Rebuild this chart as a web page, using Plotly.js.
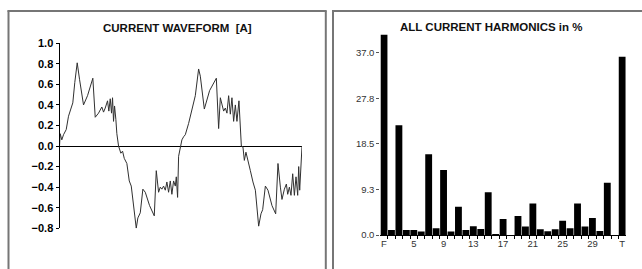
<!DOCTYPE html>
<html>
<head>
<meta charset="utf-8">
<script src="https://cdn.plot.ly/plotly-3.0.1.min.js"></script>
<style>
html,body{margin:0;padding:0;background:#fff;}
#chart{width:642px;height:269px;}
</style>
</head>
<body>
<div id="chart"></div>
<script>
// ---- Current waveform (two cycles), sample position and amplitude [A]
const waveT = [0,0.7,2.3,4.0,6.7,9.0,11.3,13.3,15.3,17.7,20.0,24.0,28.0,33.3,35.7,39.0,42.3,44.0,45.7,48.0,49.3,50.7,52.0,53.0,54.0,55.0,56.3,57.3,59.0,61.3,63.0,64.7,67.3,69.7,71.7,74.0,76.7,78.3,80.7,83.3,85.7,90.0,94.7,96.7,99.0,100.7,102.3,104.0,105.7,107.3,109.0,110.7,112.3,114.0,115.7,116.7,118.0,119.0,120.7,122.3,124.0,125.7,129.0,132.3,135.7,139.0,140.7,144.7,150.0,156.7,159.0,160.7,162.3,164.0,165.7,167.3,169.0,170.7,172.3,174.0,175.7,177.3,179.3,180.7,181.7,183.3,184.7,186.3,188.0,190.7,193.3,195.7,199.0,201.3,203.0,205.7,208.3,212.3,216.0,218.3,220.7,222.3,224.7,226.7,228.0,229.7,231.3,233.0,234.7,236.3,238.0,239.0,240.0,241.7,242.3];
const waveA = [0.0,0.12,0.06,0.11,0.16,0.29,0.36,0.42,0.62,0.81,0.65,0.40,0.49,0.66,0.28,0.32,0.38,0.33,0.37,0.44,0.34,0.46,0.32,0.47,0.24,0.39,0.26,0.12,0.0,-0.07,-0.05,-0.12,-0.17,-0.34,-0.39,-0.57,-0.80,-0.70,-0.65,-0.42,-0.45,-0.58,-0.68,-0.24,-0.45,-0.40,-0.42,-0.39,-0.43,-0.35,-0.45,-0.34,-0.47,-0.34,-0.39,-0.30,-0.50,-0.10,0.0,0.06,0.09,0.11,0.22,0.34,0.49,0.75,0.68,0.36,0.54,0.66,0.17,0.47,0.39,0.34,0.37,0.32,0.49,0.31,0.47,0.24,0.40,0.24,0.44,0.09,0.0,-0.01,-0.14,-0.06,-0.12,-0.24,-0.35,-0.43,-0.78,-0.66,-0.62,-0.39,-0.43,-0.58,-0.66,-0.17,-0.40,-0.52,-0.42,-0.37,-0.47,-0.40,-0.48,-0.27,-0.48,-0.30,-0.48,-0.20,-0.43,-0.07,0.0];
const waveTickVals = [-0.8,-0.6,-0.4,-0.2,0.0,0.2,0.4,0.6,0.8,1.0];

// ---- Harmonics in % (F = fundamental ... T = total)
const harmPos = [1,2,3,4,5,6,7,8,9,10,11,12,13,14,15,16,17,18,19,20,21,22,23,24,25,26,27,28,29,30,31,32,33];
const harmVals = [40.65,1.0,22.3,1.0,1.0,0.7,16.4,1.35,13.2,0.7,5.75,1.0,1.8,1.2,8.7,0.2,3.25,0,3.85,1.7,6.4,1.15,0.75,1.15,2.9,1.35,6.4,1.7,3.45,0.8,10.6,0,36.2];
const harmTickPos = [1,5,9,13,17,21,25,29,33];
const harmTickText = ['F','5','9','13','17','21','25','29','T'];
const harmYTickVals = [0,9.25,18.5,27.75,37];
const harmYTickText = ['0.0','9.3','18.5','27.8','37.0'];

const W = 642, H = 269;
const px = x => x / W;
const py = y => 1 - y / H;

const traces = [
  {x: waveT, y: waveA, type: 'scatter', mode: 'lines', xaxis: 'x', yaxis: 'y',
   line: {color: '#303030', width: 1}, hoverinfo: 'skip'},
  {x: harmPos, y: harmVals, type: 'bar', xaxis: 'x2', yaxis: 'y2',
   marker: {color: '#000', line: {width: 0}}, hoverinfo: 'skip'}
];

const border = '#767676';
const shapes = [
  // left panel
  {type:'line', xref:'paper', yref:'paper', x0:px(8.5), x1:px(8.5), y0:py(10.5), y1:py(275), line:{color:border, width:2}},
  {type:'line', xref:'paper', yref:'paper', x0:px(7.5), x1:px(326.5), y0:py(11), y1:py(11), line:{color:border, width:2}},
  {type:'line', xref:'paper', yref:'paper', x0:px(325.8), x1:px(325.8), y0:py(10.5), y1:py(275), line:{color:border, width:2}},
  // right panel
  {type:'line', xref:'paper', yref:'paper', x0:px(333), x1:px(333), y0:py(10.5), y1:py(275), line:{color:border, width:2}},
  {type:'line', xref:'paper', yref:'paper', x0:px(332), x1:px(650), y0:py(11), y1:py(11), line:{color:border, width:2}}
];

const titleFont = {family: 'Liberation Sans, Arial, sans-serif', size: 11.5, color: '#111', weight: 'bold'};

const layout = {
  width: W, height: H,
  margin: {l: 0, r: 0, t: 0, b: 0},
  paper_bgcolor: '#fff', plot_bgcolor: 'rgba(0,0,0,0)',
  showlegend: false,
  bargap: 0.08,
  xaxis: {domain: [px(59.5), px(302)], range: [0, 242.3], showgrid: false, zeroline: false,
          showticklabels: false, ticks: '', showline: false, fixedrange: true},
  yaxis: {domain: [py(228.2), py(43.3)], range: [-0.8, 1.0], showgrid: false,
          zeroline: true, zerolinecolor: '#000', zerolinewidth: 1,
          showline: true, linecolor: '#000', linewidth: 1,
          ticks: 'outside', ticklen: 3, tickcolor: '#000', tickwidth: 1,
          tickvals: waveTickVals, tickformat: '.1f',
          tickfont: {family: 'Liberation Sans, Arial, sans-serif', size: 11, color: '#000', weight: 'bold'},
          fixedrange: true},
  xaxis2: {domain: [px(380.3), px(625.9)], range: [0.5, 33.5], anchor: 'y2',
           showgrid: false, zeroline: false,
           showline: true, linecolor: '#000', linewidth: 1,
           tickmode: 'array', tickvals: harmTickPos, ticktext: harmTickText,
           ticks: '', ticklen: 0,
           minor: {tickvals: harmPos.slice(0, -1).map(v => v + 0.5), ticks: 'outside', ticklen: 3, tickcolor: '#000', showgrid: false},
           tickfont: {family: 'Liberation Sans, Arial, sans-serif', size: 9.5, color: '#333'},
           fixedrange: true},
  yaxis2: {domain: [py(235), py(33)], range: [0, 41], anchor: 'x2',
           showgrid: false, zeroline: false, showline: false,
           ticks: 'outside', ticklen: 3, tickcolor: '#555',
           tickmode: 'array', tickvals: harmYTickVals, ticktext: harmYTickText,
           tickfont: {family: 'Liberation Sans, Arial, sans-serif', size: 9.5, color: '#333'},
           fixedrange: true},
  shapes: shapes,
  annotations: [
    {text: 'CURRENT WAVEFORM  [A]', xref: 'paper', yref: 'paper', x: px(177.5), y: py(28),
     xanchor: 'center', yanchor: 'middle', showarrow: false, font: titleFont},
    {text: 'ALL CURRENT HARMONICS in %', xref: 'paper', yref: 'paper', x: px(491.5), y: py(27.5),
     xanchor: 'center', yanchor: 'middle', showarrow: false, font: titleFont}
  ]
};

Plotly.newPlot('chart', traces, layout, {staticPlot: true, displayModeBar: false});
</script>
</body>
</html>
